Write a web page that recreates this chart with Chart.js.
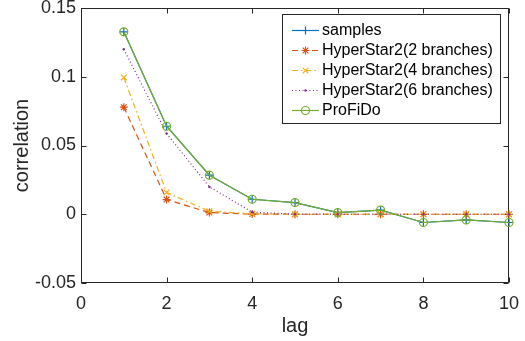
<!DOCTYPE html>
<html>
<head>
<meta charset="utf-8">
<script src="https://cdn.jsdelivr.net/npm/chart.js@4.4.0/dist/chart.umd.min.js"></script>
<style>
  html, body { margin: 0; padding: 0; background: #fff; }
  #wrap { width: 525px; height: 341px; }
</style>
</head>
<body>
<div id="wrap"><canvas id="chart" width="525" height="341"></canvas></div>
<script>
// data
const lags = [1, 2, 3, 4, 5, 6, 7, 8, 9, 10];
const samples = [0.1327, 0.0640, 0.0284, 0.0109, 0.0085, 0.0012, 0.0030, -0.0060, -0.0041, -0.0060];
const hyper2 = [0.0779, 0.0107, 0.0012, 0.0001, 0.0000, 0.0000, 0.0000, 0.0000, 0.0000, 0.0000];
const hyper4 = [0.0995, 0.0158, 0.0022, 0.0003, 0.0000, 0.0000, 0.0000, 0.0000, 0.0000, 0.0000];
const hyper6 = [0.1200, 0.0587, 0.0199, 0.0015, 0.0001, 0.0000, 0.0000, 0.0000, 0.0000, 0.0000];
const profido = [0.1327, 0.0640, 0.0284, 0.0109, 0.0085, 0.0012, 0.0030, -0.0060, -0.0041, -0.0060];
const seriesNames = ["samples", "HyperStar2(2 branches)", "HyperStar2(4 branches)", "HyperStar2(6 branches)", "ProFiDo"];
const xTickLabels = ["0", "2", "4", "6", "8", "10"];
const yTickLabels = ["-0.05", "0", "0.05", "0.1", "0.15"];

const FONT = '"Liberation Sans", Arial, Helvetica, sans-serif';
const AXIS = "#262626";

function pts(vals) {
  return lags.map((x, i) => ({ x: x, y: vals[i] }));
}

// MATLAB style box with inward ticks
const boxPlugin = {
  id: "box",
  beforeDatasetsDraw(chart) {
    const ctx = chart.ctx;
    const a = chart.chartArea;
    const sx = chart.scales.x, sy = chart.scales.y;
    const L = Math.round(a.left) + 0.5, R = Math.round(a.right) - 0.5;
    const T = Math.round(a.top) + 0.5, B = Math.round(a.bottom) - 0.5;
    ctx.save();
    ctx.strokeStyle = AXIS;
    ctx.lineWidth = 1;
    ctx.strokeRect(L, T, R - L, B - T);
    ctx.beginPath();
    sx.ticks.forEach(t => {
      const px = Math.round(sx.getPixelForValue(t.value)) + 0.5;
      ctx.moveTo(px, B); ctx.lineTo(px, B - 5);
      ctx.moveTo(px, T); ctx.lineTo(px, T + 5);
    });
    sy.ticks.forEach(t => {
      const py = Math.round(sy.getPixelForValue(t.value)) + 0.5;
      ctx.moveTo(L, py); ctx.lineTo(L + 5, py);
      ctx.moveTo(R, py); ctx.lineTo(R - 5, py);
    });
    ctx.stroke();
    ctx.restore();
  }
};

// legend box inside the plot, top right
const legendPlugin = {
  id: "boxLegend",
  afterDatasetsDraw(chart) {
    const ctx = chart.ctx;
    const x0 = 282, y0 = 14, w = 218, h = 109;
    ctx.save();
    ctx.fillStyle = "#fff";
    ctx.fillRect(x0, y0, w, h);
    ctx.strokeStyle = AXIS;
    ctx.lineWidth = 1;
    ctx.strokeRect(x0 + 0.5, y0 + 0.5, w, h);
    ctx.font = "16px " + FONT;
    ctx.textBaseline = "middle";
    chart.data.datasets.forEach((ds, i) => {
      const y = 30.5 + i * 20;
      ctx.strokeStyle = ds.borderColor;
      ctx.lineWidth = ds.borderWidth;
      ctx.setLineDash(ds.borderDash || []);
      ctx.beginPath();
      ctx.moveTo(292, y); ctx.lineTo(319, y);
      ctx.stroke();
      ctx.setLineDash([]);
      ctx.fillStyle = ds.pointBackgroundColor;
      ctx.strokeStyle = ds.borderColor;
      ctx.lineWidth = ds.pointBorderWidth;
      Chart.helpers.drawPoint(ctx, {
        pointStyle: ds.pointStyle, radius: ds.pointRadius,
        borderWidth: ds.pointBorderWidth, rotation: 0
      }, 305.5, y);
      ctx.fillStyle = "#000";
      ctx.fillText(ds.label, 322, y);
    });
    ctx.restore();
  }
};

const ctx = document.getElementById("chart").getContext("2d");

new Chart(ctx, {
  type: "line",
  data: {
    datasets: [
      {
        label: seriesNames[0], data: pts(samples), order: 4,
        borderColor: "#0072BD", borderWidth: 1.2, pointStyle: "cross",
        pointRadius: 4, pointBorderWidth: 1.2, pointBackgroundColor: "#0072BD"
      },
      {
        label: seriesNames[1], data: pts(hyper2), order: 3,
        borderColor: "#D95319", borderWidth: 1.2, borderDash: [6, 4], pointStyle: "star",
        pointRadius: 4, pointBorderWidth: 1.2, pointBackgroundColor: "#D95319"
      },
      {
        label: seriesNames[2], data: pts(hyper4), order: 2,
        borderColor: "#EDB120", borderWidth: 1.2, borderDash: [6, 3, 1.5, 3], pointStyle: "crossRot",
        pointRadius: 4, pointBorderWidth: 1.2, pointBackgroundColor: "#EDB120"
      },
      {
        label: seriesNames[3], data: pts(hyper6), order: 1,
        borderColor: "#7E2F8E", borderWidth: 1.2, borderDash: [1, 2.5], pointStyle: "circle",
        pointRadius: 1.2, pointBorderWidth: 0, pointBackgroundColor: "#7E2F8E"
      },
      {
        label: seriesNames[4], data: pts(profido), order: 0,
        borderColor: "#77AC30", borderWidth: 1.2, pointStyle: "circle",
        pointRadius: 4, pointBorderWidth: 1.2, pointBackgroundColor: "rgba(0,0,0,0)"
      }
    ].map(d => Object.assign(d, { tension: 0, fill: false, clip: false, pointBorderColor: d.borderColor }))
  },
  options: {
    responsive: false,
    animation: false,
    events: [],
    layout: { padding: { left: 0, right: 16, top: 8, bottom: 0 } },
    plugins: {
      legend: { display: false },
      tooltip: { enabled: false }
    },
    scales: {
      x: {
        type: "linear", min: 0, max: 10,
        grid: { display: false, drawTicks: false },
        border: { display: false },
        ticks: {
          stepSize: 2, autoSkip: false, maxRotation: 0, padding: 10,
          color: AXIS, font: { family: FONT, size: 18 },
          callback: (v, i) => xTickLabels[i]
        },
        title: {
          display: true, text: "lag", color: AXIS,
          font: { family: FONT, size: 20 }, padding: { top: 0, bottom: 3 }
        },
        afterFit: s => { s.height = 58; s.paddingLeft = 0; s.paddingRight = 0; }
      },
      y: {
        type: "linear", min: -0.05, max: 0.15,
        grid: { display: false, drawTicks: false },
        border: { display: false },
        ticks: {
          stepSize: 0.05, autoSkip: false, padding: 5,
          color: AXIS, font: { family: FONT, size: 18 },
          callback: (v, i) => yTickLabels[i]
        },
        title: {
          display: true, text: "correlation", color: AXIS,
          font: { family: FONT, size: 20 }, padding: { top: 10, bottom: 0 }
        },
        afterFit: s => { s.width = 81; s.paddingTop = 0; s.paddingBottom = 0; }
      }
    }
  },
  plugins: [boxPlugin, legendPlugin]
});
</script>
</body>
</html>
